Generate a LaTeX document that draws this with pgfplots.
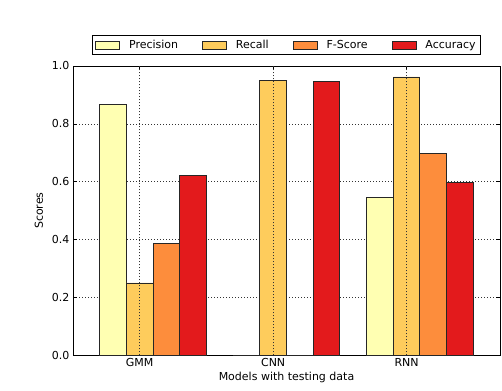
\documentclass[border=0pt]{standalone}
\usepackage{fontspec}
\setmainfont{DejaVu Sans}
\usepackage{pgfplots}
\pgfplotsset{compat=1.18}
\definecolor{cPrec}{HTML}{FFFFB2}
\definecolor{cRec}{HTML}{FECC5C}
\definecolor{cF}{HTML}{FD8D3C}
\definecolor{cAcc}{HTML}{E31A1C}

\begin{document}
\begin{tikzpicture}
\begin{axis}[
    at={(73pt,34.7pt)}, anchor=south west,
    scale only axis, width=427pt, height=289.3pt,
    xmin=-0.5, xmax=2.7, ymin=0, ymax=1,
    xtick={0,1,2}, xticklabels={GMM,CNN,RNN},
    ytick={0,0.2,0.4,0.6,0.8,1.0},
    yticklabel style={/pgf/number format/.cd, fixed, fixed zerofill, precision=1},
    /pgf/number format/assume math mode=true,
    tick align=inside, major tick length=4pt,
    tick style={black, line width=0.6pt},
    axis line style={black, line width=0.9pt},
    ymajorgrids,
    grid style={black!80, line width=0.6pt, dash pattern=on 1pt off 2pt},
    font=\fontsize{11}{13}\selectfont,
    xlabel={Models with testing data},
    ylabel={Scores},
    xlabel style={yshift=2pt},
    ylabel style={yshift=2pt},
    legend columns=4,
    legend style={at={(0.5,1.038)}, anchor=south, draw=black, line width=0.8pt,
        font=\fontsize{11}{13}\selectfont, inner sep=2.5pt,
        /tikz/every odd column/.append style={column sep=7pt},
        /tikz/every even column/.append style={column sep=22pt}},
    legend image code/.code={\draw[#1, line width=0.8pt] (0pt,-4pt) rectangle (24pt,4pt);},
    every axis plot/.append style={ybar, bar width=0.2, draw=black!85, line width=0.9pt},
]
\addplot[fill=cPrec, bar shift=-0.2] coordinates {(0,0.868) (1,0) (2,0.546)};
\addplot[fill=cRec, bar shift=0] coordinates {(0,0.250) (1,0.949) (2,0.962)};
\addplot[fill=cF, bar shift=0.2] coordinates {(0,0.388) (1,0) (2,0.696)};
\addplot[fill=cAcc, bar shift=0.4] coordinates {(0,0.620) (1,0.946) (2,0.598)};
\legend{Precision, Recall, F-Score, Accuracy}
\foreach \xx in {0,1,2} {
  \edef\tmp{\noexpand\draw[black!80, line width=0.6pt, dash pattern=on 1pt off 2pt] (axis cs:\xx,0) -- (axis cs:\xx,1);}
  \tmp
}
\end{axis}
\pgfresetboundingbox
\useasboundingbox (0,0) rectangle (502pt,390pt);
\end{tikzpicture}
\end{document}
